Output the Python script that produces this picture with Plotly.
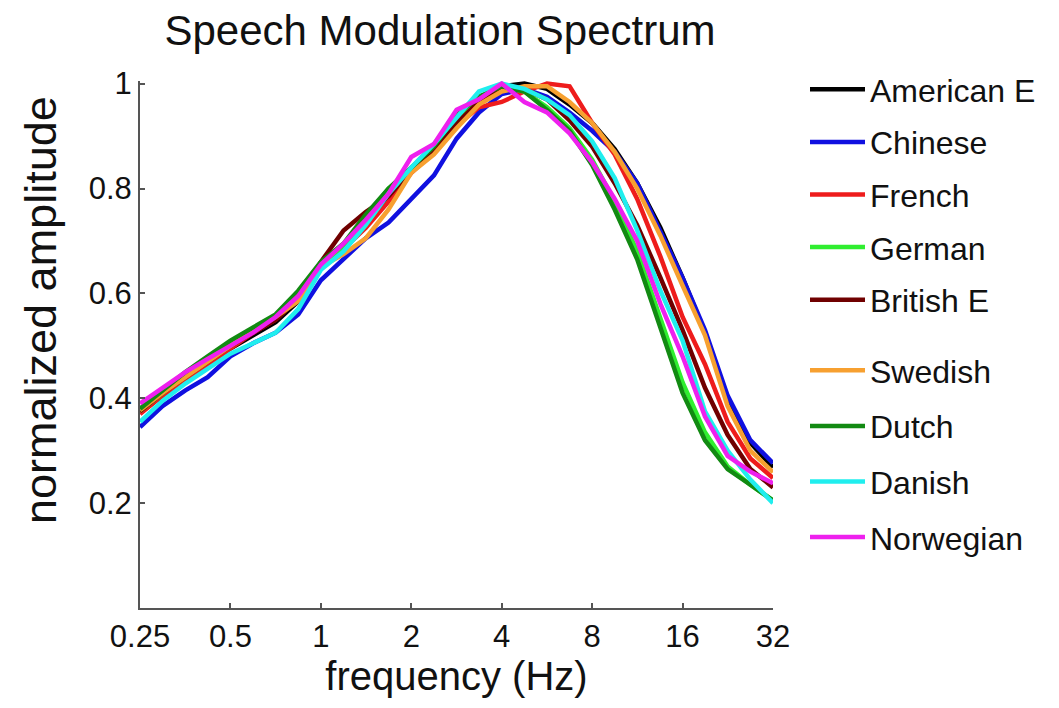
import plotly.graph_objects as go

# quarter-octave frequency grid (Hz)
freqs = [0.25, 0.297, 0.354, 0.420, 0.5, 0.595, 0.707, 0.841, 1.0, 1.19, 1.41, 1.68,
         2.0, 2.38, 2.83, 3.36, 4.0, 4.76, 5.66, 6.73, 8.0, 9.51, 11.3, 13.5,
         16.0, 19.0, 22.6, 26.9, 32.0]

american_e = [0.372, 0.405, 0.435, 0.465, 0.495, 0.520, 0.545, 0.585, 0.655, 0.690, 0.745, 0.780,
              0.835, 0.870, 0.925, 0.965, 0.995, 1.000, 0.990, 0.960, 0.925, 0.875, 0.810, 0.725,
              0.630, 0.525, 0.400, 0.315, 0.268]
chinese = [0.345, 0.385, 0.415, 0.440, 0.480, 0.505, 0.525, 0.560, 0.625, 0.665, 0.705, 0.735,
           0.780, 0.825, 0.895, 0.945, 0.980, 0.990, 0.975, 0.945, 0.910, 0.870, 0.810, 0.720,
           0.630, 0.530, 0.405, 0.320, 0.276]
french = [0.370, 0.405, 0.435, 0.465, 0.495, 0.525, 0.550, 0.590, 0.655, 0.685, 0.725, 0.775,
          0.830, 0.870, 0.920, 0.955, 0.965, 0.985, 1.000, 0.995, 0.925, 0.865, 0.780, 0.670,
          0.555, 0.465, 0.355, 0.285, 0.248]
german = [0.375, 0.410, 0.445, 0.475, 0.505, 0.530, 0.555, 0.600, 0.655, 0.690, 0.745, 0.800,
          0.835, 0.875, 0.935, 0.970, 0.995, 0.985, 0.955, 0.915, 0.855, 0.775, 0.680, 0.555,
          0.430, 0.335, 0.270, 0.235, 0.205]
british_e = [0.375, 0.410, 0.440, 0.470, 0.500, 0.525, 0.550, 0.590, 0.660, 0.720, 0.755, 0.785,
             0.835, 0.870, 0.925, 0.965, 0.995, 0.990, 0.970, 0.930, 0.880, 0.810, 0.730, 0.630,
             0.530, 0.420, 0.330, 0.265, 0.230]
swedish = [0.377, 0.410, 0.440, 0.470, 0.500, 0.530, 0.555, 0.585, 0.650, 0.675, 0.705, 0.760,
           0.830, 0.865, 0.915, 0.960, 0.985, 0.995, 0.995, 0.965, 0.925, 0.870, 0.800, 0.710,
           0.615, 0.520, 0.385, 0.300, 0.259]
dutch = [0.380, 0.415, 0.450, 0.480, 0.510, 0.535, 0.560, 0.605, 0.660, 0.695, 0.750, 0.800,
         0.840, 0.880, 0.940, 0.975, 0.995, 0.985, 0.950, 0.910, 0.845, 0.760, 0.665, 0.535,
         0.410, 0.320, 0.265, 0.235, 0.205]
danish = [0.355, 0.395, 0.428, 0.455, 0.485, 0.505, 0.525, 0.570, 0.645, 0.680, 0.730, 0.790,
          0.840, 0.885, 0.935, 0.985, 1.000, 0.990, 0.970, 0.940, 0.890, 0.820, 0.720, 0.605,
          0.510, 0.375, 0.300, 0.245, 0.200]
norwegian = [0.390, 0.420, 0.450, 0.475, 0.500, 0.525, 0.555, 0.595, 0.655, 0.695, 0.740, 0.790,
             0.860, 0.885, 0.950, 0.970, 1.000, 0.965, 0.945, 0.905, 0.850, 0.780, 0.700, 0.580,
             0.480, 0.365, 0.290, 0.260, 0.238]

series = [
    ("American E", american_e, "#000000", "legend"),
    ("Chinese", chinese, "#1010e0", "legend"),
    ("French", french, "#ee1c1c", "legend"),
    ("German", german, "#30ee30", "legend"),
    ("British E", british_e, "#700000", "legend"),
    ("Swedish", swedish, "#f7a030", "legend2"),
    ("Dutch", dutch, "#128a12", "legend2"),
    ("Danish", danish, "#20eeee", "legend2"),
    ("Norwegian", norwegian, "#ee20ee", "legend2"),
]

x_tickvals = [0.25, 0.5, 1, 2, 4, 8, 16, 32]
x_ticktext = ["0.25", "0.5", "1", "2", "4", "8", "16", "32"]
y_tickvals = [0.2, 0.4, 0.6, 0.8, 1.0]
y_ticktext = ["0.2", "0.4", "0.6", "0.8", "1"]

FONT = "Liberation Sans, Arial, sans-serif"
TXT = "#111111"

fig = go.Figure()
for name, vals, color, lg in series:
    fig.add_trace(go.Scatter(x=freqs, y=vals, mode="lines", name=name,
                             legendgroup=name, legend=lg,
                             line=dict(color=color, width=4.5)))

fig.update_layout(
    width=1059, height=708,
    margin=dict(l=140, r=286, t=81, b=100, autoexpand=False),
    paper_bgcolor="white", plot_bgcolor="white",
    font=dict(family=FONT, color=TXT),
    title=dict(text="Speech Modulation Spectrum", x=440/1059, xanchor="center",
               xref="container", y=1-30/708, yanchor="middle", yref="container",
               font=dict(size=42, family=FONT, color=TXT)),
    showlegend=True,
    legend=dict(x=805/1059, xref="container", xanchor="left",
                y=1-62/708, yref="container", yanchor="top",
                font=dict(size=32, family=FONT, color=TXT),
                tracegroupgap=8, itemwidth=55, bgcolor="rgba(0,0,0,0)"),
    legend2=dict(x=805/1059, xref="container", xanchor="left",
                 y=1-343/708, yref="container", yanchor="top",
                 font=dict(size=32, family=FONT, color=TXT),
                 tracegroupgap=11, itemwidth=55, bgcolor="rgba(0,0,0,0)"),
    xaxis=dict(type="log", range=[-0.60206, 1.50515], tickvals=x_tickvals, ticktext=x_ticktext,
               ticks="inside", ticklen=5, tickwidth=1.5, tickcolor="#555555",
               showline=True, linecolor="#555555", linewidth=2, showgrid=False, zeroline=False,
               tickfont=dict(size=31, family=FONT, color=TXT),
               title=dict(text="frequency (Hz)", font=dict(size=40, family=FONT, color=TXT),
                          standoff=6)),
    yaxis=dict(range=[0, 1.005], tickvals=y_tickvals, ticktext=y_ticktext,
               ticks="inside", ticklen=5, tickwidth=1.5, tickcolor="#555555",
               showline=True, linecolor="#555555", linewidth=2, showgrid=False, zeroline=False,
               tickfont=dict(size=31, family=FONT, color=TXT)),
    annotations=[dict(text="normalized amplitude", textangle=-90,
                      xref="paper", x=(40-140)/633, xanchor="center",
                      yref="paper", y=(608-310)/527, yanchor="middle",
                      showarrow=False, font=dict(size=45, family=FONT, color=TXT))],
)

fig.write_html("out.html")
